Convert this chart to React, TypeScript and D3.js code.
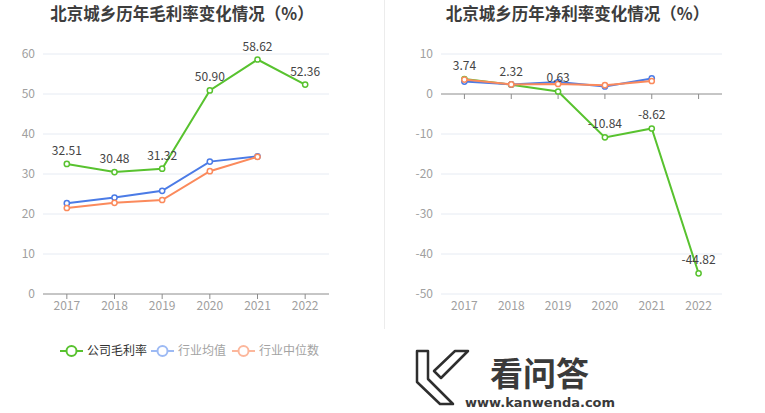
import React from 'react';
import * as d3 from 'd3';

// 北京城乡 毛利率 / 净利率 对比

const years = ['2017', '2018', '2019', '2020', '2021', '2022'];

const grossCompany = [32.51, 30.48, 31.32, 50.90, 58.62, 52.36];
const grossAvg = [22.7, 24.1, 25.8, 33.1, 34.4];
const grossMedian = [21.5, 22.8, 23.5, 30.7, 34.3];
const grossTicks = [0, 10, 20, 30, 40, 50, 60];

const netCompany = [3.74, 2.32, 0.63, -10.84, -8.62, -44.82];
const netAvg = [3.1, 2.4, 3.0, 1.9, 3.9];
const netMedian = [3.6, 2.4, 2.5, 2.2, 3.25];
const netTicks = [-50, -40, -30, -20, -10, 0, 10];

const legendNames = ['公司毛利率', '行业均值', '行业中位数'];

const GREEN = '#58c22f';
const BLUE = '#4b7be6';
const ORANGE = '#fb8a5c';
const FONT = '"Noto Sans CJK SC", "Noto Sans", sans-serif';

type PanelProps = {
  title: string;
  left: number;
  right: number;
  domain: [number, number];
  ticks: number[];
  company: number[];
  avg: number[];
  median: number[];
};

const Panel = ({ title, left, right, domain, ticks, company, avg, median }: PanelProps) => {
  const x = d3.scaleBand().domain(years).range([left, right]).padding(0);
  const y = d3.scaleLinear().domain(domain).range([294, 54]);
  const cx = (i: number) => (x(years[i]) as number) + x.bandwidth() / 2;

  const line = d3.line<number>()
    .x((d, i) => cx(i))
    .y(d => y(d));

  // company drawn first, industry lines on top (as in the original)
  const series = [
    { data: company, color: GREEN },
    { data: avg, color: BLUE },
    { data: median, color: ORANGE },
  ];

  return (
    <g fontFamily={FONT}>
      <text x={(left + right) / 2 - 4} y={20} textAnchor="middle" fontSize={16.5} fontWeight="bold" fill="#3d3d3d">
        {title}
      </text>
      {ticks.map(t => (
        <g key={t}>
          {t !== 0 && (
            <line x1={left} x2={right} y1={y(t)} y2={y(t)} stroke="#e6ebf3" strokeWidth={1} />
          )}
          <text x={left - 8} y={y(t)} dy="0.35em" textAnchor="end" fontSize={12} fill="#a0a0a0">
            {t}
          </text>
        </g>
      ))}
      <line x1={left} x2={right} y1={y(0)} y2={y(0)} stroke="#8c8c8c" strokeWidth={1} />
      {years.map((yr, i) => (
        <g key={yr}>
          <line x1={cx(i)} x2={cx(i)} y1={y(0)} y2={y(0) + 5} stroke="#8c8c8c" />
          <text x={cx(i)} y={310} textAnchor="middle" fontSize={12} fill="#a0a0a0">
            {yr}
          </text>
        </g>
      ))}
      {series.map(s => (
        <g key={s.color}>
          <path d={line(s.data) || ''} fill="none" stroke={s.color} strokeWidth={2} />
          {s.data.map((d, i) => (
            <circle key={i} cx={cx(i)} cy={y(d)} r={2.6} fill="#fff" stroke={s.color} strokeWidth={1.5} />
          ))}
        </g>
      ))}
      {company.map((d, i) => (
        <text key={i} x={cx(i)} y={y(d) - 9} textAnchor="middle" fontSize={12} fill="#444">
          {d.toFixed(2)}
        </text>
      ))}
    </g>
  );
};

const Legend = () => {
  const colors = [GREEN, '#9dbaf4', '#fcb79c'];
  const starts = [60, 151, 232];
  return (
    <g fontFamily={FONT}>
      {legendNames.map((name, i) => (
        <g key={name} transform={`translate(${starts[i]},351)`}>
          <line x1={0} x2={23} y1={0} y2={0} stroke={colors[i]} strokeWidth={2} />
          <circle cx={11.5} cy={0} r={5} fill="#fff" stroke={colors[i]} strokeWidth={2} />
          <text x={27} y={0} dy="0.35em" fontSize={12} fill={i === 0 ? '#333' : '#a3a3a3'}>
            {name}
          </text>
        </g>
      ))}
    </g>
  );
};

const Watermark = () => (
  <g>
    <path d="M417,351 L428,351 L428,379 L453,404 L440,404 L417,382 Z" fill="#fff" stroke="#2e2e2e" strokeWidth={2.5} strokeLinejoin="round" />
    <path d="M455,351 L468,351 L441,378 L434,371 Z" fill="#fff" stroke="#2e2e2e" strokeWidth={2.5} strokeLinejoin="round" />
    <text x={490} y={386} fontSize={33} fontWeight="bold" fill="#3a3a3a" fontFamily={FONT}>
      看问答
    </text>
    <text x={465} y={407} fontSize={13} fontWeight="bold" fill="#3a3a3a" fontFamily='"DejaVu Sans", sans-serif'>
      www.kanwenda.com
    </text>
  </g>
);

export default function App() {
  return (
    <svg width={765} height={413} style={{ position: 'absolute', left: 0, top: 0, background: '#fff' }}>
      <rect width={765} height={413} fill="#fff" />
      <Panel
        title="北京城乡历年毛利率变化情况（%）"
        left={43}
        right={329}
        domain={[0, 60]}
        ticks={grossTicks}
        company={grossCompany}
        avg={grossAvg}
        median={grossMedian}
      />
      <line x1={384.5} x2={384.5} y1={0} y2={329} stroke="#ececec" />
      <Panel
        title="北京城乡历年净利率变化情况（%）"
        left={441}
        right={722}
        domain={[-50, 10]}
        ticks={netTicks}
        company={netCompany}
        avg={netAvg}
        median={netMedian}
      />
      <Legend />
      <Watermark />
    </svg>
  );
}
